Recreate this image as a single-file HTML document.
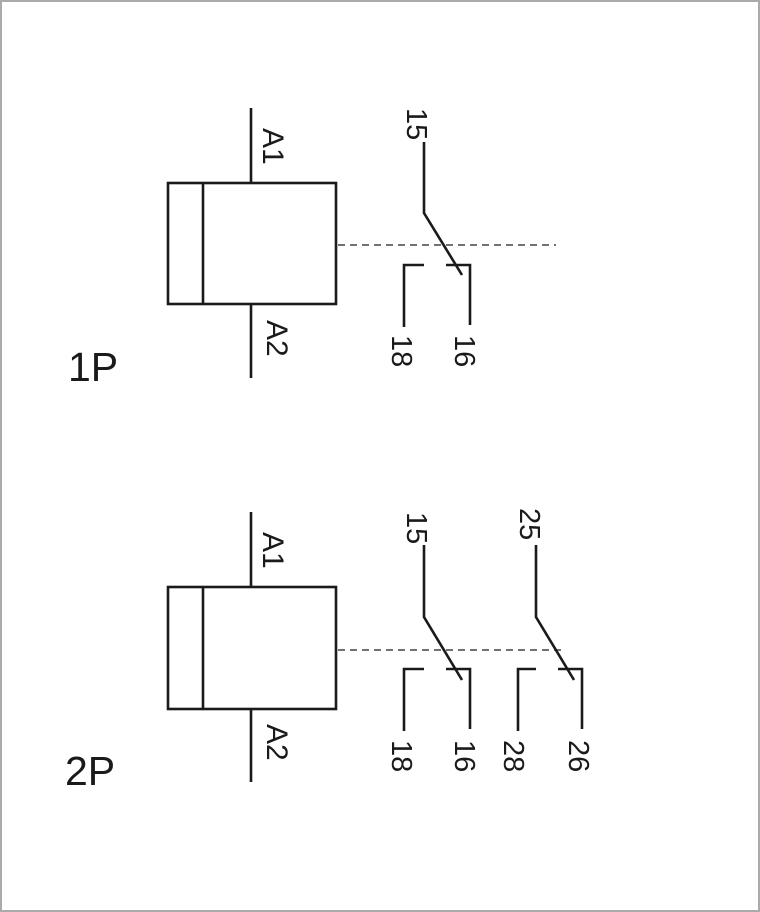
<!DOCTYPE html>
<html><head><meta charset="utf-8"><style>
html,body{margin:0;padding:0;background:#fff}
svg{display:block}
text{font-family:"Liberation Sans",Arial,sans-serif;fill:#1a1a1a}
</style></head><body>
<svg width="760" height="912" viewBox="0 0 760 912" xmlns="http://www.w3.org/2000/svg">
<rect x="1" y="1" width="758" height="910" fill="#fff" stroke="#aaa" stroke-width="2"/>
<g stroke="#1a1a1a" stroke-width="2.6" fill="none">
<line x1="251" y1="108" x2="251" y2="183"/>
<line x1="251" y1="304" x2="251" y2="378"/>
<rect x="168" y="183" width="168" height="121"/>
<line x1="203" y1="183" x2="203" y2="304"/>
<line x1="338" y1="245" x2="556" y2="245" stroke="#444" stroke-width="1.5" stroke-dasharray="7,5"/>
<polyline points="424,142 424,213 462,275"/>
<polyline points="404,327 404,265 424,265"/>
<polyline points="446,265 470,265 470,325"/>
<line x1="251" y1="512" x2="251" y2="587"/>
<line x1="251" y1="709" x2="251" y2="782"/>
<rect x="168" y="587" width="168" height="122"/>
<line x1="203" y1="587" x2="203" y2="709"/>
<line x1="338" y1="650" x2="565" y2="650" stroke="#444" stroke-width="1.5" stroke-dasharray="7,5"/>
<polyline points="424,545 424,617 462,680"/>
<polyline points="404,731 404,669 424,669"/>
<polyline points="446,669 470,669 470,729"/>
<polyline points="536,545 536,617 574,680"/>
<polyline points="518,731 518,669 536,669"/>
<polyline points="558,669 582,669 582,729"/>
</g>
<g font-size="30">
<text transform="translate(263,128) rotate(90)">A1</text>
<text transform="translate(267,320) rotate(90)">A2</text>
<text font-size="29" transform="translate(407,108) rotate(90)">15</text>
<text font-size="29" transform="translate(392,335) rotate(90)">18</text>
<text font-size="29" transform="translate(455,335) rotate(90)">16</text>
<text transform="translate(263,532) rotate(90)">A1</text>
<text transform="translate(267,724) rotate(90)">A2</text>
<text font-size="29" transform="translate(407,512) rotate(90)">15</text>
<text font-size="29" transform="translate(520,508) rotate(90)">25</text>
<text font-size="29" transform="translate(392,740) rotate(90)">18</text>
<text font-size="29" transform="translate(455,740) rotate(90)">16</text>
<text font-size="29" transform="translate(504,740) rotate(90)">28</text>
<text font-size="29" transform="translate(569,740) rotate(90)">26</text>
</g>
<text x="68" y="381" font-size="41">1P</text>
<text x="65" y="785" font-size="41">2P</text>
</svg>
</body></html>
